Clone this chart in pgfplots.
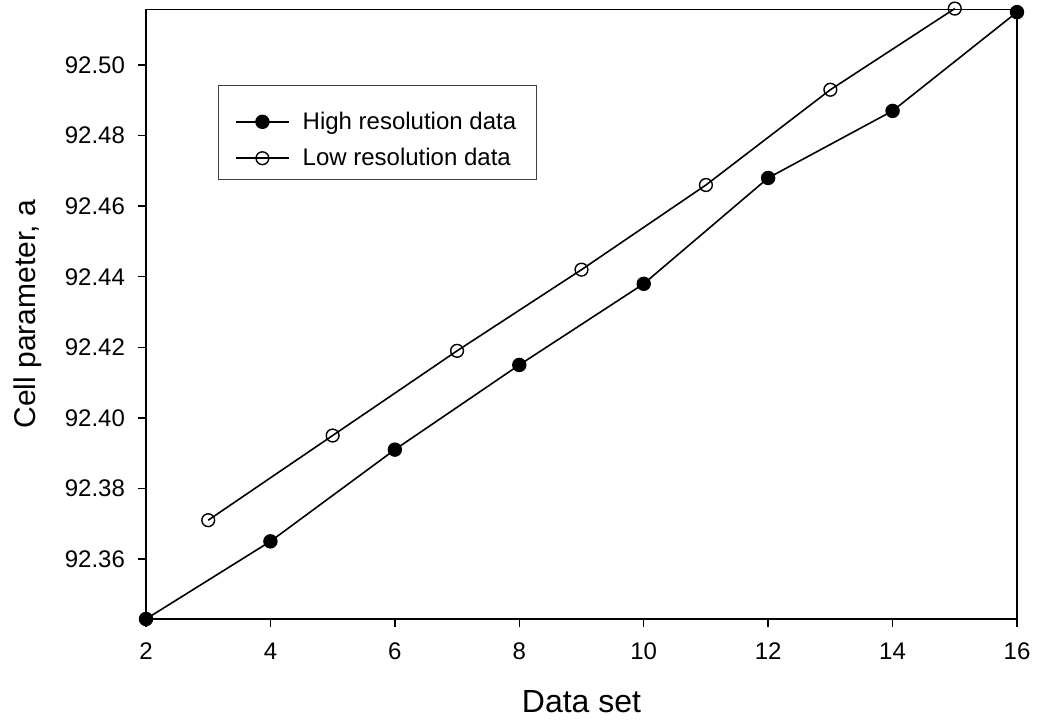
\documentclass[border=0pt]{standalone}
\usepackage{fontspec}
\setmainfont{Liberation Sans}
\usepackage{pgfplots}
\pgfplotsset{compat=1.18}
\begin{document}
\begin{tikzpicture}
\begin{axis}[
  name=ax,
  scale only axis,
  width=435.5pt, height=304.85pt,
  xmin=2, xmax=16,
  ymin=92.343, ymax=92.5158,
  clip=false,
  axis line style={line width=0.7pt},
  tick style={line width=0.7pt, black},
  tick align=outside,
  major tick length=4pt,
  xtick pos=left, ytick pos=left,
  xtick={2,4,6,8,10,12,14,16},
  ytick={92.36,92.38,92.40,92.42,92.44,92.46,92.48,92.50},
  scaled y ticks=false,
  /pgf/number format/assume math mode=true,
  xticklabel style={font=\fontsize{12}{14}\selectfont, yshift=-4.5pt},
  yticklabel style={font=\fontsize{12}{14}\selectfont, xshift=-3pt,
    /pgf/number format/fixed, /pgf/number format/fixed zerofill,
    /pgf/number format/precision=2, /pgf/number format/1000 sep={}},
  xlabel={Data set},
  ylabel={Cell parameter, a},
  xlabel style={font=\fontsize{16}{19}\selectfont, at={(rel axis cs:0.5,0)}, anchor=center, yshift=-41.5pt},
  ylabel style={font=\fontsize{15}{18}\selectfont, at={(rel axis cs:0,0.5)}, anchor=center, yshift=59pt},
  legend style={at={(0.0827,0.8758)}, anchor=north west, draw=black!75, line width=0.5pt,
    font=\fontsize{12}{14}\selectfont, inner xsep=8.3pt, inner ysep=3.5pt, row sep=4pt},
  legend cell align=left,
  legend image code/.code={\draw[mark repeat=2,mark phase=2] plot coordinates {(0pt,0pt) (13.25pt,0pt) (26.5pt,0pt)}; \path (31pt,0pt);},
]
\addplot[black, line width=0.8pt, mark=*, mark size=3.2pt, mark options={fill=black},
  legend image code/.code={\draw[mark repeat=2,mark phase=2] plot coordinates {(0pt,0pt) (13.25pt,0pt) (26.5pt,0pt)}; \path (31pt,0pt) (0pt,14.25pt);}] coordinates {
  (2,92.343) (4,92.365) (6,92.391) (8,92.415) (10,92.438) (12,92.468) (14,92.487) (16,92.515)
};
\addlegendentry{High resolution data}
\addplot[black, line width=0.8pt, mark=o, mark size=3.2pt, mark options={fill=white, line width=0.7pt}] coordinates {
  (3,92.371) (5,92.395) (7,92.419) (9,92.442) (11,92.466) (13,92.493) (15,92.516)
};
\addlegendentry{Low resolution data}
\end{axis}
\pgfresetboundingbox
\useasboundingbox ([xshift=-73pt,yshift=-51pt]ax.south west) rectangle ([xshift=16pt,yshift=4.65pt]ax.north east);
\end{tikzpicture}
\end{document}
